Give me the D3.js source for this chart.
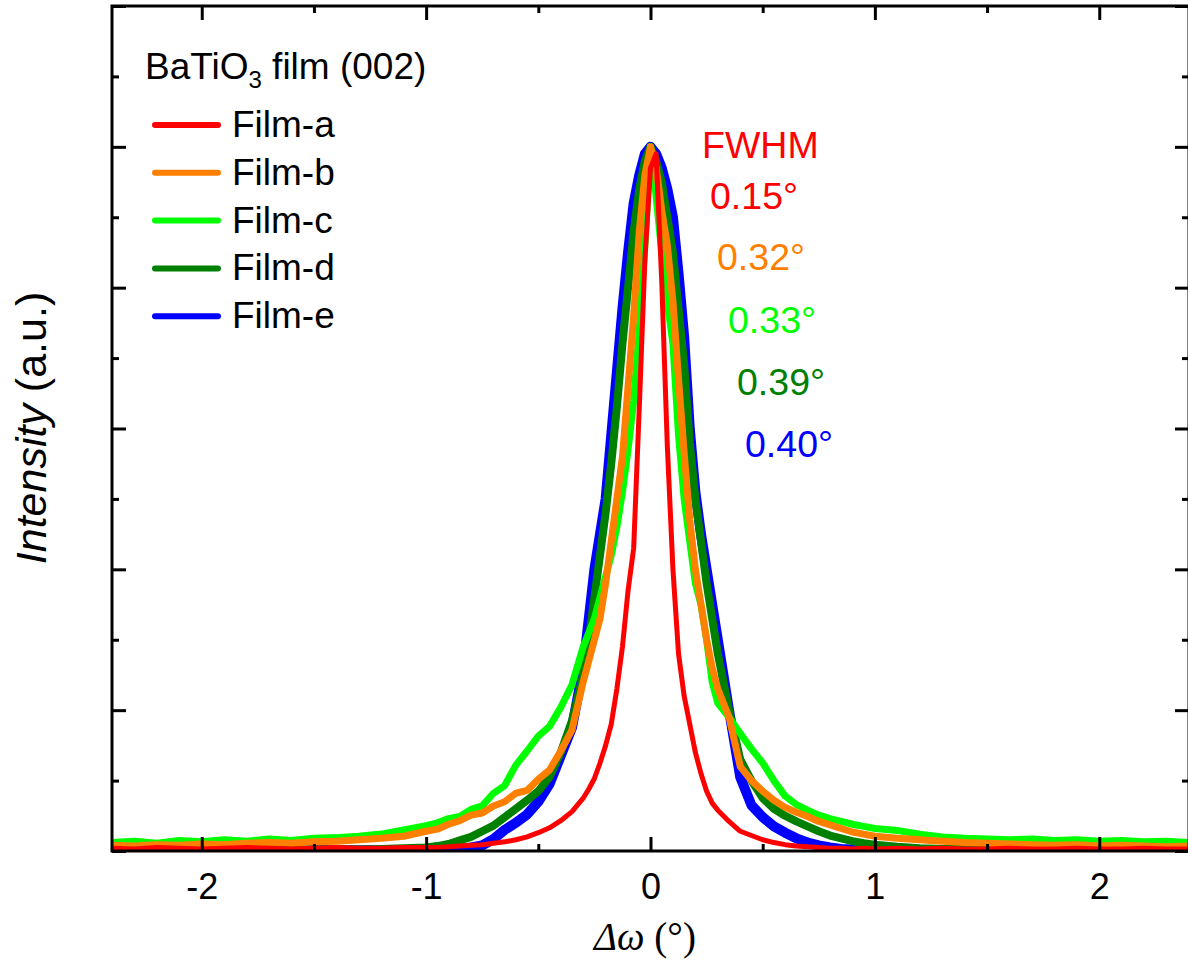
<!DOCTYPE html>
<html>
<head>
<meta charset="utf-8">
<script src="https://cdn.jsdelivr.net/npm/d3@7"></script>
<style>
  body { margin: 0; background: #fff; }
  text { font-family: "Liberation Sans", Arial, sans-serif; }
</style>
</head>
<body>
<div id="app"></div>
<script>
// shared omega grid (deg)
const omega = [-2.4, -2.3, -2.2, -2.1, -2.0, -1.9, -1.8, -1.7, -1.6, -1.5, -1.4, -1.3, -1.2, -1.1, -1.0,
    -0.95, -0.9, -0.85, -0.8, -0.75, -0.7, -0.65, -0.6, -0.55, -0.5, -0.45, -0.4, -0.35, -0.3,
    -0.275, -0.25, -0.225, -0.2, -0.175, -0.15, -0.125, -0.1, -0.075, -0.05, -0.025, 0,
    0.025, 0.05, 0.075, 0.1, 0.125, 0.15, 0.175, 0.2, 0.225, 0.25, 0.275,
    0.3, 0.35, 0.4, 0.45, 0.5, 0.55, 0.6, 0.65, 0.7, 0.75, 0.8, 0.85, 0.9, 0.95,
    1.0, 1.1, 1.2, 1.3, 1.4, 1.5, 1.6, 1.7, 1.8, 1.9, 2.0, 2.1, 2.2, 2.3, 2.4];

const filmA = [0.004, 0.003, 0.005, 0.004, 0.003, 0.004, 0.005, 0.004, 0.003, 0.004, 0.005, 0.004, 0.004, 0.005, 0.005,
    0.005, 0.006, 0.007, 0.008, 0.009, 0.011, 0.013, 0.016, 0.02, 0.026, 0.033, 0.043, 0.056, 0.075,
    0.088, 0.103, 0.125, 0.15, 0.18, 0.23, 0.29, 0.37, 0.43, 0.63, 0.84, 0.97,
    0.99, 0.81, 0.575, 0.40, 0.28, 0.22, 0.18, 0.14, 0.11, 0.085, 0.068,
    0.058, 0.042, 0.028, 0.022, 0.016, 0.012, 0.009, 0.007, 0.006, 0.005, 0.004, 0.004, 0.003, 0.004,
    0.003, 0.004, 0.003, 0.004, 0.003, 0.003, 0.004, 0.003, 0.003, 0.004, 0.003, 0.003, 0.004, 0.003, 0.003];

const filmB = [0.008, 0.007, 0.009, 0.008, 0.01, 0.009, 0.011, 0.012, 0.011, 0.013, 0.014, 0.016, 0.018, 0.021, 0.028,
    0.031, 0.038, 0.043, 0.051, 0.054, 0.064, 0.07, 0.082, 0.086, 0.102, 0.115, 0.142, 0.172, 0.24,
    0.27, 0.30, 0.33, 0.38, 0.44, 0.50, 0.56, 0.66, 0.76, 0.88, 0.96, 1.0,
    0.97, 0.91, 0.86, 0.78, 0.67, 0.565, 0.47, 0.40, 0.35, 0.30, 0.26,
    0.23, 0.19, 0.12, 0.10, 0.085, 0.072, 0.062, 0.055, 0.049, 0.042, 0.037, 0.032, 0.027, 0.024,
    0.021, 0.018, 0.016, 0.014, 0.012, 0.011, 0.01, 0.009, 0.008, 0.009, 0.007, 0.008, 0.007, 0.006, 0.007];

const filmC = [0.012, 0.014, 0.011, 0.015, 0.013, 0.016, 0.014, 0.017, 0.015, 0.018, 0.019, 0.021, 0.024, 0.03, 0.036,
    0.04, 0.046, 0.049, 0.059, 0.064, 0.082, 0.093, 0.122, 0.142, 0.163, 0.177, 0.204, 0.236, 0.29,
    0.31, 0.33, 0.36, 0.39, 0.42, 0.46, 0.51, 0.57, 0.64, 0.74, 0.86, 1.0,
    0.93, 0.85, 0.78, 0.72, 0.59, 0.50, 0.44, 0.38, 0.35, 0.30, 0.24,
    0.21, 0.19, 0.167, 0.145, 0.125, 0.10, 0.078, 0.066, 0.058, 0.051, 0.046, 0.042, 0.038, 0.035,
    0.032, 0.029, 0.024, 0.02, 0.018, 0.017, 0.016, 0.017, 0.015, 0.016, 0.014, 0.015, 0.013, 0.014, 0.012];

const filmD = [0.002, 0.002, 0.002, 0.002, 0.002, 0.002, 0.002, 0.002, 0.002, 0.002, 0.002, 0.002, 0.003, 0.004, 0.005,
    0.007, 0.01, 0.015, 0.02, 0.028, 0.036, 0.048, 0.06, 0.072, 0.085, 0.105, 0.14, 0.185, 0.25,
    0.30, 0.36, 0.42, 0.48, 0.55, 0.63, 0.72, 0.80, 0.88, 0.94, 0.98, 1.0,
    0.98, 0.95, 0.90, 0.85, 0.77, 0.69, 0.58, 0.50, 0.44, 0.38, 0.33,
    0.28, 0.20, 0.13, 0.10, 0.075, 0.06, 0.05, 0.042, 0.035, 0.028, 0.022, 0.018, 0.014, 0.011,
    0.009, 0.006, 0.004, 0.003, 0.003, 0.002, 0.002, 0.002, 0.002, 0.002, 0.002, 0.002, 0.002, 0.002, 0.002];

const filmE = [0.001, 0.001, 0.001, 0.001, 0.001, 0.001, 0.001, 0.001, 0.001, 0.001, 0.001, 0.001, 0.001, 0.001, 0.001,
    0.001, 0.002, 0.003, 0.005, 0.008, 0.017, 0.03, 0.04, 0.052, 0.07, 0.095, 0.135, 0.175, 0.26,
    0.33, 0.40, 0.45, 0.50, 0.59, 0.68, 0.77, 0.85, 0.92, 0.96, 0.99, 1.0,
    0.99, 0.97, 0.94, 0.90, 0.82, 0.73, 0.60, 0.51, 0.45, 0.40, 0.35,
    0.30, 0.20, 0.105, 0.065, 0.048, 0.035, 0.026, 0.018, 0.012, 0.008, 0.005, 0.003, 0.002, 0.001,
    0.001, 0.001, 0.001, 0.001, 0.001, 0.001, 0.001, 0.001, 0.001, 0.001, 0.001, 0.001, 0.001, 0.001, 0.001];

const names = ["Film-a", "Film-b", "Film-c", "Film-d", "Film-e"];
const colors = ["#ff0000", "#ff8000", "#00ff00", "#008000", "#0000ff"];
const fwhm = ["0.15°", "0.32°", "0.33°", "0.39°", "0.40°"];
const xTicks = [-2, -1, 0, 1, 2];
const xMinor = [-1.5, -0.5, 0.5, 1.5];
const yTicks = [0, 0.2, 0.4, 0.6, 0.8, 1.0, 1.2];
const yMinor = [0.1, 0.3, 0.5, 0.7, 0.9, 1.1];

const series = [filmA, filmB, filmC, filmD, filmE];

const width = 1188;
const height = 962;
const mLeft = 112, mRight = 1189, mTop = 6, mBottom = 851;

const svg = d3.select('#app')
    .append('svg')
    .attr('width', width)
    .attr('height', height);

const x = d3.scaleLinear().domain([-2.4, 2.4]).range([mLeft, mRight]);
const y = d3.scaleLinear().domain([0, 1.2]).range([mBottom, mTop]);

svg.append('clipPath').attr('id', 'clip')
    .append('rect')
    .attr('x', mLeft).attr('y', mTop)
    .attr('width', mRight - mLeft).attr('height', mBottom - mTop);

const line = d3.line()
    .x((d, i) => x(omega[i]))
    .y(d => y(d))
    .curve(d3.curveLinear);

// draw order: e, d, c, b, a (red on top)
const widths = [5, 7, 7, 8, 10];
const order = [4, 3, 2, 1, 0];
const plot = svg.append('g').attr('clip-path', 'url(#clip)');
order.forEach(k => {
    plot.append('path')
        .datum(series[k])
        .attr('d', line)
        .attr('fill', 'none')
        .attr('stroke', colors[k])
        .attr('stroke-width', widths[k])
        .attr('stroke-linejoin', 'round')
        .attr('stroke-linecap', 'round');
});

// axes, ticks pointing inward
const fmt = d => String(d);
const addAxis = (gen, transform, values, size, labels) => {
    const g = svg.append('g')
        .attr('transform', transform)
        .call(gen.tickValues(values).tickSize(size).tickPadding(22).tickFormat(labels ? fmt : ''));
    g.select('.domain').remove();
    g.selectAll('line').attr('stroke', '#000').attr('stroke-width', 3);
    g.selectAll('text')
        .attr('font-family', '"Liberation Sans", Arial, sans-serif')
        .attr('font-size', 36)
        .attr('fill', '#000');
    return g;
};

addAxis(d3.axisBottom(x), `translate(0,${mBottom})`, xTicks, -14, true);
addAxis(d3.axisBottom(x), `translate(0,${mBottom})`, xMinor, -7, false);
addAxis(d3.axisTop(x), `translate(0,${mTop})`, xTicks, -14, false);
addAxis(d3.axisTop(x), `translate(0,${mTop})`, xMinor, -7, false);
addAxis(d3.axisLeft(y), `translate(${mLeft},0)`, yTicks, -14, false);
addAxis(d3.axisLeft(y), `translate(${mLeft},0)`, yMinor, -7, false);
addAxis(d3.axisRight(y), `translate(${mRight},0)`, yTicks, -14, false);
addAxis(d3.axisRight(y), `translate(${mRight},0)`, yMinor, -7, false);

svg.append('rect')
    .attr('x', mLeft).attr('y', mTop)
    .attr('width', mRight - mLeft).attr('height', mBottom - mTop)
    .attr('fill', 'none')
    .attr('stroke', '#000')
    .attr('stroke-width', 3);

// axis titles
const xt = svg.append('text')
    .attr('x', 645).attr('y', 950)
    .attr('text-anchor', 'middle')
    .style('font-family', '"Liberation Serif", "Times New Roman", serif')
    .attr('font-size', 39);
xt.append('tspan').attr('font-style', 'italic').text('Δω');
xt.append('tspan').text(' (°)');

const yt = svg.append('text')
    .attr('transform', 'translate(46,428) rotate(-90)')
    .attr('text-anchor', 'middle')
    .attr('font-size', 43);
yt.append('tspan').attr('font-style', 'italic').text('Intensity');
yt.append('tspan').text(' (a.u.)');

// legend
const title = svg.append('text')
    .attr('x', 145).attr('y', 79)
    .attr('font-size', 37);
title.append('tspan').text('BaTiO');
title.append('tspan').attr('font-size', 24).attr('dy', 9).text('3');
title.append('tspan').attr('dy', -9).text(' film (002)');

const legend = svg.append('g');
names.forEach((n, i) => {
    const ly = 125 + i * 47.8;
    legend.append('line')
        .attr('x1', 155).attr('x2', 218)
        .attr('y1', ly).attr('y2', ly)
        .attr('stroke', colors[i])
        .attr('stroke-width', 6)
        .attr('stroke-linecap', 'round');
    legend.append('text')
        .attr('x', 232).attr('y', ly + 12)
        .attr('font-size', 37)
        .text(n);
});

// FWHM labels
svg.append('text')
    .attr('x', 702).attr('y', 158)
    .attr('font-size', 37.5)
    .attr('fill', colors[0])
    .text('FWHM');

const fwX = [710, 717, 728, 737, 745];
const fwY = [209, 270, 333, 395, 457];
fwhm.forEach((t, i) => {
    svg.append('text')
        .attr('x', fwX[i]).attr('y', fwY[i])
        .attr('font-size', 37.5)
        .attr('fill', colors[i])
        .text(t);
});
</script>
</body>
</html>
